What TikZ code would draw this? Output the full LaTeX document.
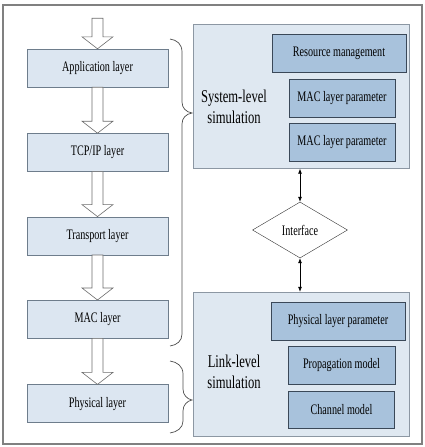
\documentclass[tikz,border=0pt]{standalone}
\usepackage{fontspec}
\newfontfamily\figfont[FakeStretch=0.7]{Liberation Serif}
\usepackage{xcolor}
\usetikzlibrary{positioning,arrows.meta,calc,shapes.geometric}
\definecolor{layerfill}{HTML}{DCE6F1}
\definecolor{layerline}{HTML}{6E7D8C}
\definecolor{simfill}{HTML}{DFE8F1}
\definecolor{simline}{HTML}{8C97A3}
\definecolor{parfill}{HTML}{A8C2DC}
\definecolor{parline}{HTML}{3A4858}

\begin{document}
\begin{tikzpicture}[x=1pt, y=-1pt,
  layer/.style={draw=layerline, fill=layerfill, minimum width=141pt, minimum height=38pt, inner sep=0pt, font=\figfont\fontsize{14.5}{17}\selectfont},
  simbox/.style={draw=simline, fill=simfill, minimum width=216pt, minimum height=144pt, inner sep=0pt},
  param/.style={draw=parline, fill=parfill, minimum height=38pt, inner sep=0pt, font=\figfont\fontsize{14.5}{17}\selectfont},
  simtxt/.style={align=center, font=\figfont\fontsize{18}{20.5}\selectfont},
  fatarr/.style={draw=gray!85!black, fill=white, line width=0.6pt},
  arr/.style={{Latex[length=5pt,width=4pt]}-{Latex[length=5pt,width=4pt]}, line width=0.7pt},
  brc/.style={draw=black!70, line width=0.7pt}]
\useasboundingbox (0,0) rectangle (425,447);
\draw[gray, line width=1.4pt] (3,5) rectangle (422,444);
% protocol stack
\node[inner sep=0pt, minimum size=0pt] (in) at (97.5,18) {};
\node[layer] (app) at (97.5,68) {Application layer};
\node[layer, below=46pt of app] (tcp) {TCP/IP layer};
\node[layer, below=45pt of tcp] (trans) {Transport layer};
\node[layer, below=45pt of trans] (mac) {MAC layer};
\node[layer, below=46pt of mac] (phy) {Physical layer};
\foreach \a/\b in {in/app, app/tcp, tcp/trans, trans/mac, mac/phy}
  \draw[fatarr] ($(\a.south)+(-5.5,0)$) -- ($(\b.north)+(-5.5,-12)$) -- ($(\b.north)+(-15.5,-12)$) -- (\b.north)
    -- ($(\b.north)+(15.5,-12)$) -- ($(\b.north)+(5.5,-12)$) -- ($(\a.south)+(5.5,0)$) -- cycle;
% simulation blocks
\node[simbox] (sys) at (301,96.5) {};
\node[param, minimum width=134pt, below left=10pt and 3pt of sys.north east] (rm) {Resource management};
\node[param, minimum width=106pt, below=6pt of rm, xshift=3pt] (mac1) {MAC layer parameter};
\node[param, minimum width=106pt, below=6pt of mac1] (mac2) {MAC layer parameter};
\node[simtxt] (systxt) at (234,107) {System-level\\simulation};
\node[diamond, draw=black!80, fill=white, minimum width=95pt, minimum height=56pt, inner sep=0pt,
  font=\figfont\fontsize{14.5}{17}\selectfont] (iface) at (300,230) {Interface};
\node[simbox] (link) at (301,364) {};
\node[param, minimum width=134pt, below left=10pt and 4pt of link.north east] (plp) {Physical layer parameter};
\node[param, minimum width=107pt, below=6pt of plp, xshift=3.5pt] (prop) {Propagation model};
\node[param, minimum width=106pt, minimum height=37pt, below=6pt of prop] (chan) {Channel model};
\node[simtxt] (linktxt) at (234,372) {Link-level\\simulation};
\draw[arr] (iface.north) -- (iface.north |- sys.south);
\draw[arr] (iface.south) -- (iface.south |- link.north);
% braces
\draw[brc] (170,39) .. controls (177,40) and (182,44) .. (182,52) -- (182,102)
  .. controls (182,108) and (186,112) .. (192,113) .. controls (186,114) and (182,118) .. (182,124)
  -- (182,334) .. controls (182,341) and (177,345) .. (170,346);
\draw[brc] (170,361) .. controls (177,362) and (183,366) .. (183,374) -- (183,389)
  .. controls (183,395) and (187,399) .. (192,400) .. controls (187,401) and (183,405) .. (183,411)
  -- (183,421) .. controls (183,428) and (177,432) .. (170,433);
\end{tikzpicture}
\end{document}
